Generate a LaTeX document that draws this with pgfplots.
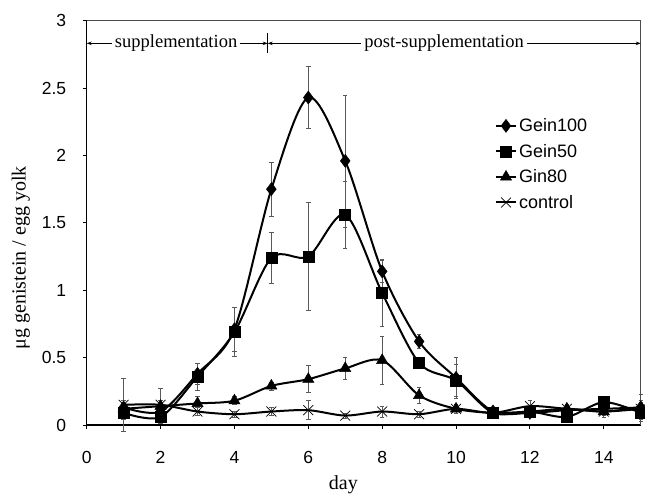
\documentclass[border=0pt]{standalone}
\usepackage{fontspec}
\setmainfont{Liberation Serif}
\setsansfont{Liberation Sans}
\usepackage{pgfplots}
\usepackage{pgfplotstable}
\pgfplotsset{compat=1.18}
\usetikzlibrary{arrows.meta}

\pgfplotstableread{
x y e
1 0.13 0.05
2 0.10 0.05
3 0.38 0.08
4 0.71 0.16
5 1.75 0.20
6 2.43 0.23
7 1.96 0.49
8 1.14 0.08
9 0.62 0.05
10 0.35 0.15
11 0.10 0.03
12 0.09 0.03
13 0.11 0.03
14 0.12 0.04
15 0.13 0.10
}\geinhundred

\pgfplotstableread{
x y e
1 0.09 0.05
2 0.06 0.05
3 0.36 0.10
4 0.69 0.18
5 1.24 0.19
6 1.25 0.40
7 1.56 0.25
8 0.98 0.25
9 0.46 0.04
10 0.33 0.12
11 0.09 0.03
12 0.10 0.03
13 0.06 0.04
14 0.17 0.04
15 0.09 0.05
}\geinfifty

\pgfplotstableread{
x y e
1 0.12 0.04
2 0.14 0.04
3 0.16 0.05
4 0.18 0.03
5 0.29 0.03
6 0.34 0.10
7 0.42 0.08
8 0.48 0.18
9 0.22 0.06
10 0.12 0.03
11 0.09 0.02
12 0.10 0.03
13 0.12 0.03
14 0.10 0.04
15 0.13 0.05
}\gineighty

\pgfplotstableread{
x y e
1 0.15 0.20
2 0.15 0.12
3 0.10 0.03
4 0.08 0.02
5 0.10 0.03
6 0.11 0.07
7 0.07 0.02
8 0.10 0.04
9 0.08 0.02
10 0.12 0.03
11 0.09 0.03
12 0.14 0.04
13 0.12 0.03
14 0.10 0.03
15 0.12 0.05
}\control

\begin{document}
\begin{tikzpicture}
\useasboundingbox (-86.7pt,-71pt) rectangle (558.3pt,425pt);
\begin{axis}[
  at={(0pt,0pt)}, anchor=south west, scale only axis,
  width=554pt, height=404.3pt,
  xmin=0, xmax=15, ymin=0, ymax=3,
  xtick={0,2,...,14}, ytick={0,0.5,...,3},
  axis x line*=bottom, axis y line*=left,
  axis line style={line width=1.6pt, -},
  tick align=outside, major tick length=4pt,
  tick style={black, line width=1pt},
  ticklabel style={font={\fontsize{17.5}{17.5}\selectfont\sffamily}},
  yticklabel style={xshift=-13pt},
  xticklabel style={yshift=-19pt},
  /pgf/number format/assume math mode=true,
  yticklabel style={/pgf/number format/fixed},
  clip=false,
  xlabel={day},
  ylabel={μg genistein / egg yolk},
  every axis x label/.style={at={(axis cs:6.95,0)}, anchor=center, yshift=-60pt, font=\fontsize{20}{20}\selectfont},
  every axis y label/.style={at={(axis description cs:-0.1191,0.4133)}, anchor=center, rotate=90, font=\fontsize{20}{20}\selectfont},
  legend style={at={(axis cs:11.05,2.29)}, anchor=north west, draw=none, fill=none,
    font={\fontsize{18}{18}\selectfont\sffamily}, row sep=7pt, inner sep=0pt},
  legend cell align=left,
  legend image code/.code={\draw[#1, mark repeat=2, mark phase=2] plot coordinates {(0pt,0pt) (10pt,0pt) (20pt,0pt)};},
  ebar/.style={error bars/.cd, y dir=both, y explicit,
    error bar style={line width=0.6pt, black!65, solid},
    error mark options={rotate=90, mark size=2.2pt, line width=0.6pt, black!65}},
]
\addplot[black, line width=2pt, smooth, mark=diamond*, mark size=6.5pt, mark options={solid, fill=black, line width=0.5pt}, ebar]
  table[x=x, y=y, y error=e]{\geinhundred};
\addlegendentry{Gein100}
\addplot[black, line width=2pt, smooth, mark=square*, mark size=5.5pt, mark options={solid, fill=black, line width=0.5pt}, ebar]
  table[x=x, y=y, y error=e]{\geinfifty};
\addlegendentry{Gein50}
\addplot[black, line width=2pt, smooth, mark=triangle*, mark size=6.5pt, mark options={solid, fill=black, line width=0.5pt}, ebar]
  table[x=x, y=y, y error=e]{\gineighty};
\addlegendentry{Gin80}
\addplot[black, line width=2pt, smooth, mark=x, mark size=7pt, mark options={solid, line width=0.7pt}, ebar]
  table[x=x, y=y, y error=e]{\control};
\addlegendentry{control}

\draw[black!70, line width=0.8pt] (axis cs:0,3) -- (axis cs:15,3) -- (axis cs:15,0);
\draw[{Stealth[length=5pt,width=3.5pt]}-{Stealth[length=5pt,width=3.5pt]}, line width=0.7pt]
  (axis cs:0,2.832) -- node[fill=white, inner xsep=3pt, inner ysep=1pt, pos=0.494, font=\fontsize{18.5}{18.5}\selectfont]{supplementation} (axis cs:4.9,2.832);
\draw[{Stealth[length=5pt,width=3.5pt]}-{Stealth[length=5pt,width=3.5pt]}, line width=0.7pt]
  (axis cs:4.9,2.832) -- node[fill=white, inner xsep=3pt, inner ysep=1pt, pos=0.473, font=\fontsize{18.5}{18.5}\selectfont]{post-supplementation} (axis cs:15,2.832);
\draw[line width=0.8pt] (axis cs:4.9,2.76) -- (axis cs:4.9,2.91);
\end{axis}
\end{tikzpicture}
\end{document}
